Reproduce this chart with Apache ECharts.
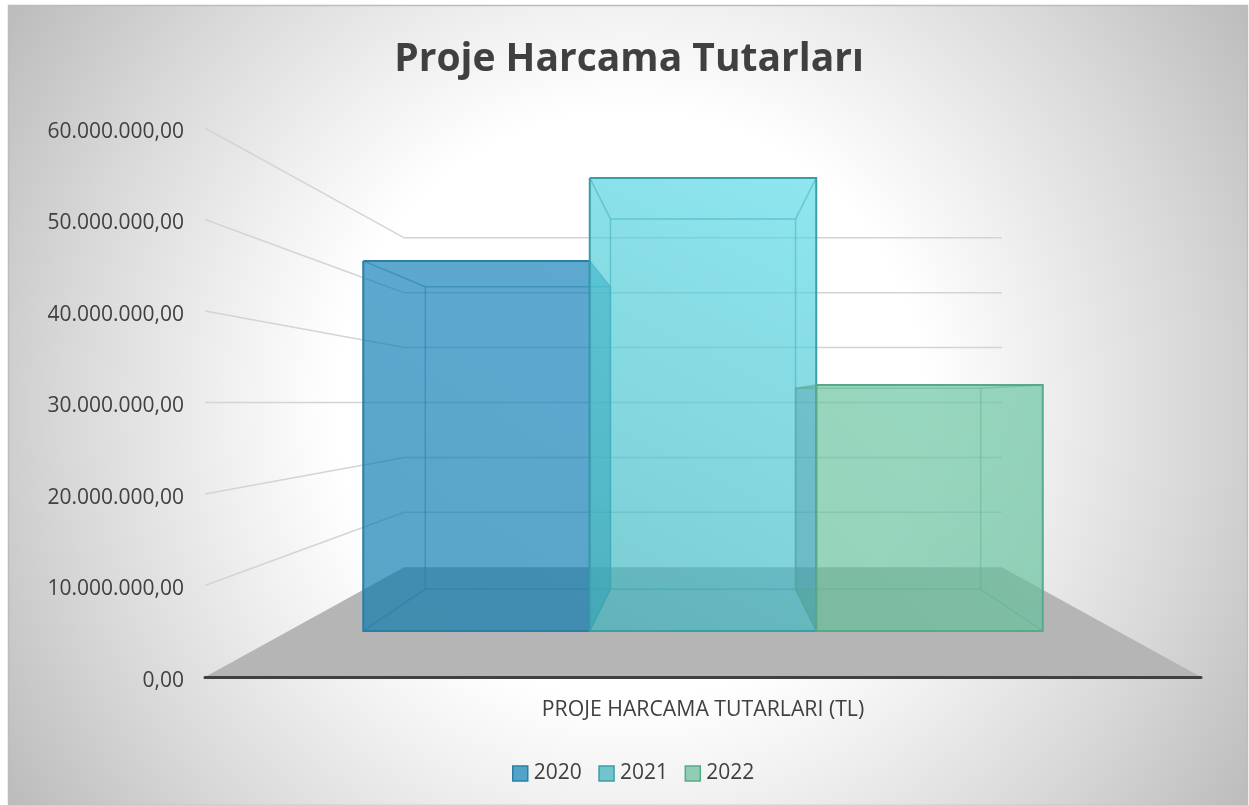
<!DOCTYPE html>
<html>
<head>
<meta charset="utf-8">
<style>html,body{margin:0;padding:0;background:#fff}#c{width:1249px;height:805px}</style>
<script src="https://cdn.jsdelivr.net/npm/echarts@6/dist/echarts.min.js"></script>
</head>
<body>
<div id="c"></div>
<script>
const titleText = 'Proje Harcama Tutarları';
const categories = ['PROJE HARCAMA TUTARLARI (TL)'];
const years = ['2020', '2021', '2022'];
const values = [48600000, 59500000, 32300000];
const axisTicks = [0, 10000000, 20000000, 30000000, 40000000, 50000000, 60000000];
const fillLow = ['#0578ac', '#38b2bc', '#5fbe98'];
const fillHigh = ['#0a7cb8', '#56d9e6', '#66c4a0'];
const edges = ['#2b7fa6', '#3a9ea8', '#58a98a'];

const FRONT = 0.832, BACK = 0.68, WALL = 0.6, BAR_SPAN = 0.82, FACE_ALPHA = 0.42;

function projector(api) {
  const top = api.coord([0, 60000000])[1], bottom = api.coord([0, 0])[1];
  const cx = api.coord([0, 0])[0];
  const cy = (top + bottom) / 2;
  return {
    cx, band: api.size([1, 0])[0],
    p(x, y, s) { return [cx + s * (x - cx), cy + s * (y - cy)]; }
  };
}

function renderFloor(params, api) {
  const P = projector(api), y = api.coord([0, 0])[1];
  const l = P.cx - P.band / 2, r = P.cx + P.band / 2;
  return {
    type: 'polygon',
    shape: { points: [[l, y], [r, y], P.p(r, y, WALL), P.p(l, y, WALL)] },
    style: { fill: '#b5b5b5' }
  };
}

function renderGrid(params, api) {
  if (api.value(0) === 0) return null;
  const P = projector(api), y = api.coord([0, api.value(0)])[1];
  const l = P.cx - P.band / 2, r = P.cx + P.band / 2;
  return {
    type: 'polyline',
    shape: { points: [[l, y], P.p(l, y, WALL), P.p(r, y, WALL)] },
    style: { stroke: '#d4d4d4', lineWidth: 1.5, fill: null }
  };
}

function makeBar(idx) {
  return function (params, api) {
    const P = projector(api);
    const yTop = api.coord([0, api.value(1)])[1], yBot = api.coord([0, 0])[1];
    const w = P.band * BAR_SPAN / years.length;
    const x0 = P.cx - P.band * BAR_SPAN / 2 + idx * w, x1 = x0 + w;
    const f = [P.p(x0, yTop, FRONT), P.p(x1, yTop, FRONT), P.p(x1, yBot, FRONT), P.p(x0, yBot, FRONT)];
    const b = [P.p(x0, yTop, BACK), P.p(x1, yTop, BACK), P.p(x1, yBot, BACK), P.p(x0, yBot, BACK)];
    const grad = {
      type: 'linear', global: true,
      x: f[3][0], y: f[3][1], x2: f[1][0], y2: f[1][1],
      colorStops: [{ offset: 0, color: fillLow[idx] }, { offset: 1, color: fillHigh[idx] }]
    };
    const face = pts => ({ type: 'polygon', shape: { points: pts }, style: { fill: grad, opacity: FACE_ALPHA } });
    const shade = pts => ({ type: 'polygon', shape: { points: pts }, style: { fill: '#3c8296', opacity: 0.3 } });
    const line = (pts, lw, op) => ({
      type: 'polyline', shape: { points: pts },
      style: { stroke: edges[idx], lineWidth: lw, opacity: op, fill: null }
    });
    // the last bar's back wall stops where the middle bar hides it
    const backPts = idx === 2
      ? [[f[3][0], b[0][1]], b[1], b[2], [f[3][0], b[3][1]]]
      : b;
    const leftFace = [f[0], f[3], b[3], b[0]];
    const rightFace = [f[1], f[2], b[2], b[1]];
    const inner = idx === 1 ? 0.6 : 0.5;
    return {
      type: 'group',
      children: [
        face(backPts),
        face([f[3], f[2], b[2], b[3]]),
        idx === 2 ? shade(leftFace) : face(leftFace),
        idx === 0 ? shade(rightFace) : face(rightFace),
        face([f[0], f[1], b[1], b[0]]),
        line([b[0], b[1], b[2], b[3], b[0]], 1.5, inner),
        line([f[0], b[0]], 1.5, inner),
        line([f[1], b[1]], 1.5, inner),
        line([f[2], b[2]], 1.5, inner),
        line([f[3], b[3]], 1.5, inner),
        face(f),
        line([f[0], f[1], f[2], f[3], f[0]], 2, 1)
      ]
    };
  };
}

function fmt(v) {
  return String(v).replace(/\B(?=(\d{3})+(?!\d))/g, '.') + ',00';
}

const chart = echarts.init(document.getElementById('c'), null, { renderer: 'canvas' });
chart.setOption({
  animation: false,
  graphic: [{
    type: 'rect', z: -10, silent: true,
    shape: { x: 8.5, y: 5.5, width: 1239, height: 800 },
    style: {
      stroke: '#bdbdbd', lineWidth: 1.5,
      fill: {
        type: 'radial', global: true, x: 630, y: 405, r: 735,
        colorStops: [
          { offset: 0, color: '#ffffff' },
          { offset: 0.4, color: '#ffffff' },
          { offset: 0.55, color: '#f0f0f0' },
          { offset: 0.77, color: '#d8d8d8' },
          { offset: 1, color: '#bcbcbc' }
        ]
      }
    }
  }],
  title: {
    text: titleText, left: 624, top: 35, textAlign: 'center',
    textStyle: { fontFamily: 'Open Sans', fontWeight: 'bold', fontSize: 39, color: '#404040' }
  },
  legend: {
    left: 507, top: 758, itemWidth: 15, itemHeight: 15, itemGap: 16.5,
    icon: 'rect',
    textStyle: { fontFamily: 'Open Sans', fontSize: 21, color: '#404040', padding: [0, 0, 0, 1] },
    data: years.map((y, i) => ({
      name: y,
      itemStyle: { color: i === 0 ? '#52a3c9' : i === 1 ? '#72c4cb' : '#90cdb3', borderColor: edges[i], borderWidth: 1.5 }
    }))
  },
  grid: { left: 205, right: 48, top: 128, bottom: 128 },
  xAxis: {
    type: 'category', data: categories,
    axisLine: { show: true, lineStyle: { color: '#404040', width: 3 } },
    axisTick: { show: false },
    axisLabel: { fontFamily: 'Open Sans', fontSize: 21.25, color: '#404040', margin: 22 },
    z: 5
  },
  yAxis: {
    type: 'value', min: 0, max: 60000000, interval: 10000000,
    axisLine: { show: false }, axisTick: { show: false }, splitLine: { show: false },
    axisLabel: { fontFamily: 'Open Sans', fontSize: 21, color: '#404040', margin: 21, verticalAlign: 'top', lineHeight: 8, formatter: fmt }
  },
  series: [
    { type: 'custom', name: 'floor', silent: true, clip: false, encode: { x: 1, y: 0 },
      renderItem: renderFloor, data: [[0, categories[0]]], z: 1 },
    { type: 'custom', name: 'grid', silent: true, clip: false, encode: { x: 1, y: 0 },
      renderItem: renderGrid, data: axisTicks.map(t => [t, categories[0]]), z: 2 }
  ].concat(years.map((y, i) => ({
    type: 'custom', name: y, clip: false, silent: true, z: 3 + i,
    encode: { x: 0, y: 1 },
    itemStyle: { color: fillLow[i], borderColor: edges[i] },
    renderItem: makeBar(i),
    data: [[categories[0], values[i]]]
  })))
});
</script>
</body>
</html>
